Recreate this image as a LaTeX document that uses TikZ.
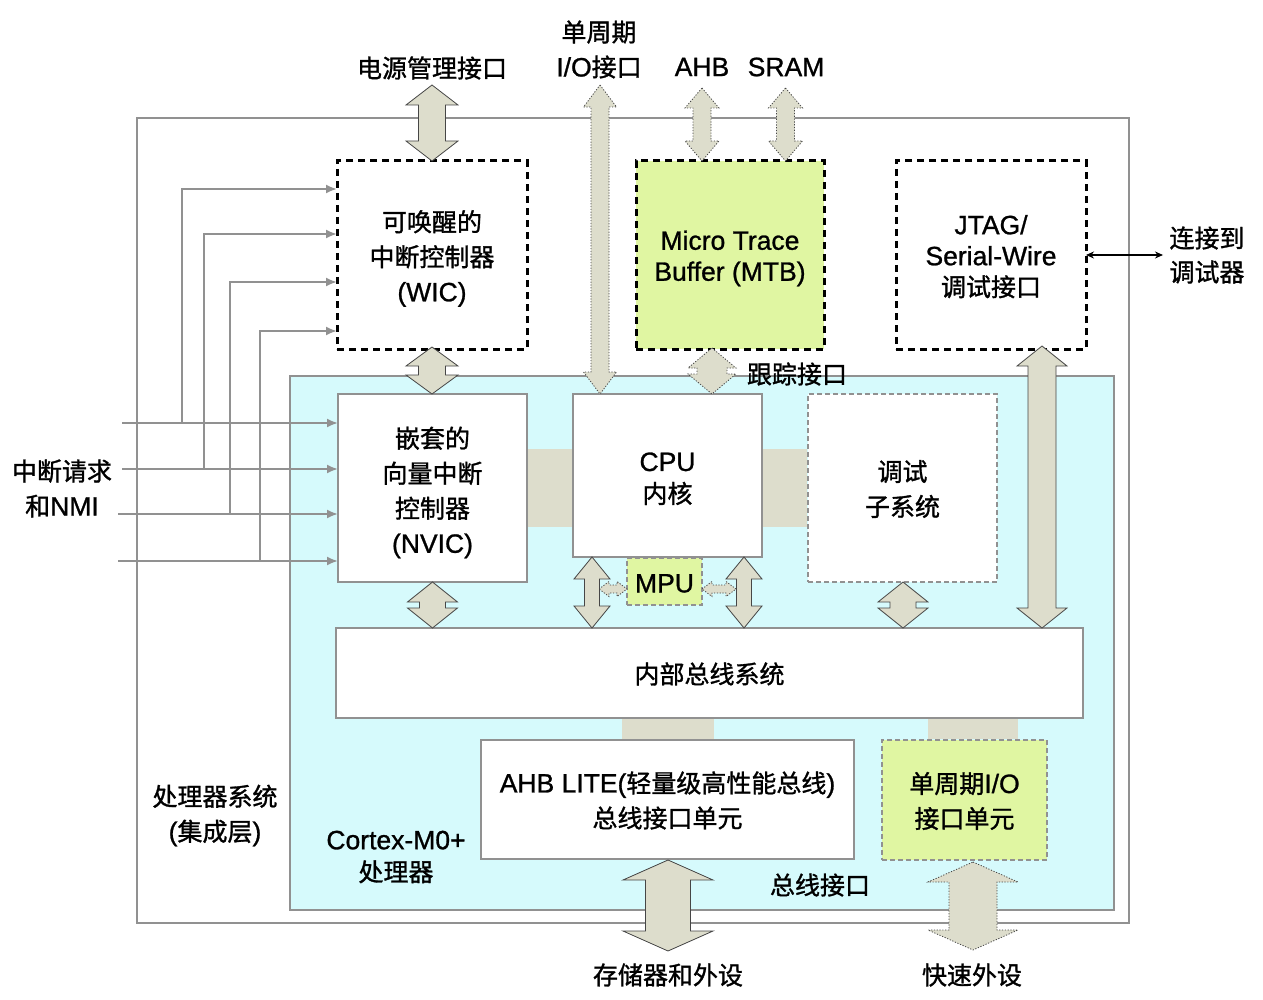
\documentclass[tikz,border=0pt]{standalone}
\usepackage{fontspec}
\setmainfont{Noto Sans CJK SC}[FakeBold=1.2]
\newfontfamily\lat{Liberation Sans}[Scale=1.06,FakeBold=1.0]
\usetikzlibrary{calc,arrows.meta}
\definecolor{cyanbg}{RGB}{214,250,252}
\definecolor{lime}{RGB}{224,246,162}
\definecolor{beige}{RGB}{221,221,204}
\definecolor{frame}{RGB}{145,145,145}
\definecolor{outl}{RGB}{70,70,70}
\newcommand\topstrut[1]{\rule{0pt}{#1pt}}
% vertical double block arrow: style, top point, bottom point, shaft half width, head half width, head length
\newcommand\vdbl[6]{%
  \path[#1] let \p1=(#2), \p2=(#3) in
    (\x1,\y1) -- (\x1+#5pt,\y1-#6pt) -- (\x1+#4pt,\y1-#6pt) -- (\x1+#4pt,\y2+#6pt) -- (\x1+#5pt,\y2+#6pt)
    -- (\x1,\y2) -- (\x1-#5pt,\y2+#6pt) -- (\x1-#4pt,\y2+#6pt) -- (\x1-#4pt,\y1-#6pt) -- (\x1-#5pt,\y1-#6pt) -- cycle;}
% horizontal double block arrow: style, left point, right point, shaft half width, head half width, head length
\newcommand\hdbl[6]{%
  \path[#1] let \p1=(#2), \p2=(#3) in
    (\x1,\y1) -- (\x1+#6pt,\y1+#5pt) -- (\x1+#6pt,\y1+#4pt) -- (\x2-#6pt,\y1+#4pt) -- (\x2-#6pt,\y1+#5pt)
    -- (\x2,\y1) -- (\x2-#6pt,\y1-#5pt) -- (\x2-#6pt,\y1-#4pt) -- (\x1+#6pt,\y1-#4pt) -- (\x1+#6pt,\y1-#5pt) -- cycle;}
\begin{document}
\begin{tikzpicture}[x=1pt,y=-1pt,
  every node/.style={inner sep=0pt, outer sep=0pt, font=\fontsize{25}{35}\selectfont, align=center},
  sz/.style 2 args={minimum width=#1, minimum height=#2, anchor=north west},
  plainbox/.style={draw=frame, line width=2pt, fill=white},
  blackdash/.style={draw=black, line width=3pt, dash pattern=on 7pt off 5pt},
  graydash/.style={draw=frame, line width=2pt, dash pattern=on 5pt off 3pt},
  link/.style={fill=beige},
  blk/.style={fill=beige, draw=outl, line width=0.8pt, line join=miter},
  blkdot/.style={fill=beige, draw=outl, line width=0.8pt, dash pattern=on 1.2pt off 1.6pt},
  irq/.style={draw=frame, line width=2pt, -{Latex[length=11pt,width=9pt]}},
  dbgline/.style={draw=black, line width=1.2pt, {Stealth[length=8pt,width=7pt]}-{Stealth[length=8pt,width=7pt]}}
]
\useasboundingbox (0,0) rectangle (1263,1000);

% containers
\node[sz={992}{805}, draw=frame, line width=2pt, fill=white] (sys) at (137,118) {};
\node[sz={824}{534}, draw=frame, line width=2pt, fill=cyanbg] (core) at (290,376) {};

% blocks
\node[sz={190}{188}, blackdash, fill=white] (wic) at (337,161) {\topstrut{28}可唤醒的\\中断控制器\\{\lat (WIC)}};
\node[sz={188}{188}, blackdash, fill=lime, font=\fontsize{25}{31}\selectfont\lat] (mtb) at (636,161) {\topstrut{26}Micro Trace\\Buffer (MTB)};
\node[sz={190}{188}, blackdash, fill=white, font=\fontsize{25}{31}\selectfont] (jtag) at (896,161) {\topstrut{22.5}{\lat JTAG/}\\{\lat Serial-Wire}\\调试接口};
\node[sz={189}{188}, plainbox] (nvic) at (338,394) {\topstrut{30}嵌套的\\向量中断\\控制器\\{\lat (NVIC)}};
\node[sz={189}{163}, plainbox, font=\fontsize{25}{32}\selectfont] (cpu) at (573,394) {\topstrut{25}{\lat CPU}\\内核};
\node[sz={189}{188}, graydash, fill=white] (dbg) at (808,394) {\topstrut{23}调试\\子系统};
\node[sz={75}{47}, graydash, fill=lime] (mpu) at (627,558) {\topstrut{22}\lat MPU};
\node[sz={747}{90}, plainbox] (bus) at (336,628) {\topstrut{23}内部总线系统};
\node[sz={373}{119}, plainbox] (ahb) at (481,740) {\topstrut{23}{\lat AHB LITE(}轻量级高性能总线{\lat )}\\总线接口单元};
\node[sz={165}{120}, graydash, fill=lime] (sio) at (882,740) {\topstrut{23}单周期{\lat I/O}\\接口单元};

% link strips
\fill[link] ($(nvic.north east)+(1,55)$) rectangle ($(cpu.north west)+(-1,133)$);
\fill[link] ($(cpu.north east)+(1,55)$) rectangle ($(dbg.north west)+(-1,133)$);
\fill[link] ($(bus.south west)+(286,1)$) rectangle ($(ahb.north west)+(233,-1)$);
\fill[link] ($(bus.south west)+(592,1)$) rectangle ($(sio.north west)+(136,-1)$);

% free ends
\coordinate (pwr) at (432,85);
\coordinate (sioport) at (600,85);
\coordinate (ahbport) at (702,88);
\coordinate (sramport) at (785.5,88);
\coordinate (mem) at (668,951);
\coordinate (fast) at (973,950);
\coordinate (mpuL) at (599,589);
\coordinate (mpuR) at (736,589);
\coordinate (dbgr) at (1163,255);

% block arrows
\hdbl{blkdot}{mpuL}{mpu.west}{4}{7.5}{10}
\hdbl{blkdot}{$(mpu.east)+(0,7.5)$}{mpuR}{4}{7.5}{10}
\vdbl{blk}{pwr}{wic.north}{13.5}{26}{20}
\vdbl{blkdot}{sioport}{cpu.north}{9}{16.5}{22}
\vdbl{blkdot}{ahbport}{mtb.north}{9}{17}{20}
\vdbl{blkdot}{sramport}{mtb.north}{9}{17}{20}
\vdbl{blk}{$(wic.south)+(0,-2)$}{nvic.north}{13.5}{26}{19}
\vdbl{blkdot}{$(mtb.south)+(-18,-1)$}{cpu.north}{15}{24}{20}
\vdbl{blk}{$(jtag.south)+(51,-3)$}{bus.north}{14}{25}{20}
\vdbl{blk}{nvic.south}{bus.north}{13}{25}{20}
\vdbl{blk}{$(cpu.south west)+(19,0)$}{bus.north}{7.5}{18}{22}
\vdbl{blk}{$(cpu.south east)+(-18,0)$}{bus.north}{7.5}{18}{22}
\vdbl{blk}{$(dbg.south)+(0.5,0)$}{bus.north}{13}{25}{20}
\vdbl{blk}{$(ahb.south west)+(187,1)$}{mem}{22.5}{45}{20}
\vdbl{blkdot}{$(sio.south west)+(91,2)$}{fast}{24}{45}{20}

% interrupt lines
\coordinate (irq1) at (122,423);
\coordinate (irq2) at (122,469);
\coordinate (irq3) at (118,514);
\coordinate (irq4) at (118,561);
\coordinate (br1) at (182,423);
\coordinate (br2) at (204,469);
\coordinate (br3) at (230,514);
\coordinate (br4) at (260,561);
\draw[irq] (irq1) -- (nvic.west |- irq1);
\draw[irq] (irq2) -- (nvic.west |- irq2);
\draw[irq] (irq3) -- (nvic.west |- irq3);
\draw[irq] (irq4) -- (nvic.west |- irq4);
\draw[irq] (br1) |- ($(wic.north west)+(0,28)$);
\draw[irq] (br2) |- ($(wic.north west)+(0,73)$);
\draw[irq] (br3) |- ($(wic.north west)+(0,121)$);
\draw[irq] (br4) |- ($(wic.north west)+(0,170)$);

% debugger link
\draw[dbgline] (jtag.east) -- (dbgr);

% labels
\node (lpwr) at (432,68) {电源管理接口};
\node (lsio) at (599,49.5) {单周期\\{\lat I/O}接口};
\node (lahb) at (702,67) {\lat AHB};
\node (lsram) at (786,67) {\lat SRAM};
\node[font=\fontsize{25}{34}\selectfont] (ldbg) at (1207,255) {连接到\\调试器};
\node (lirq) at (62,488.5) {中断请求\\和{\lat NMI}};
\node (lsys) at (215,815.5) {处理器系统\\{\lat (}集成层{\lat )}};
\node[font=\fontsize{25}{32}\selectfont] (lcore) at (396,857) {{\lat Cortex-M0+}\\处理器};
\node (ltrace) at (797,374) {跟踪接口};
\node (lbusif) at (820,885) {总线接口};
\node (lmem) at (668,975) {存储器和外设};
\node (lfast) at (972,975) {快速外设};
\end{tikzpicture}
\end{document}
